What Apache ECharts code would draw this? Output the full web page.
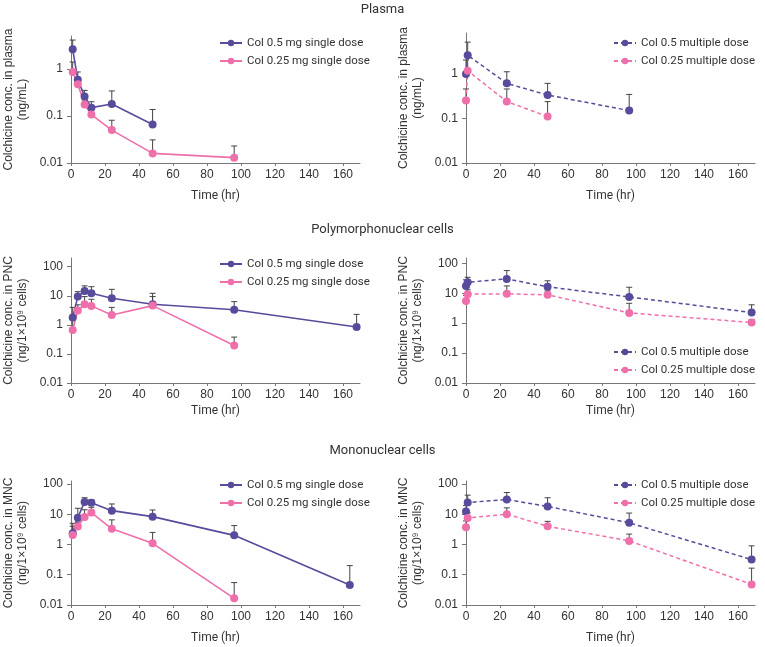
<!DOCTYPE html>
<html><head><meta charset="utf-8">
<script src="https://cdn.jsdelivr.net/npm/echarts@6/dist/echarts.min.js"></script>
<style>html,body{margin:0;padding:0;background:#fff}#c{width:765px;height:647px}</style>
</head><body><div id="c"></div>
<script>
// ---- data ----
const names = ["Col 0.5 mg single dose", "Col 0.25 mg single dose", "Col 0.5 multiple dose", "Col 0.25 multiple dose"];
const panelTitles = ["Plasma", "Polymorphonuclear cells", "Mononuclear cells"];
const yNames = ["Colchicine conc. in plasma\n(ng/mL)", "Colchicine conc. in PNC\n(ng/1×10⁹ cells)", "Colchicine conc. in MNC\n(ng/1×10⁹ cells)"];
const xTickStep = 20;

// Plasma single dose
const plasmaS05T = [1, 4, 8, 12, 24, 48];
const plasmaS05 = [2.6, 0.59, 0.26, 0.15, 0.18, 0.066];
const plasmaS05Up = [4.1, 0.86, 0.35, 0.2, 0.34, 0.137];
const plasmaS025T = [1, 4, 8, 12, 24, 48, 96];
const plasmaS025 = [0.86, 0.47, 0.175, 0.107, 0.05, 0.016, 0.013];
const plasmaS025Up = [1.4, 0.55, 0.22, 0.155, 0.081, 0.031, 0.023];
// Plasma multiple dose
const plasmaM05T = [0, 1, 24, 48, 96];
const plasmaM05 = [0.97, 2.55, 0.6, 0.33, 0.148];
const plasmaM05Up = [2.0, 5.0, 1.09, 0.6, 0.34];
const plasmaM025T = [0, 1, 24, 48];
const plasmaM025 = [0.25, 1.15, 0.235, 0.109];
const plasmaM025Up = [0.45, 2.5, 0.45, 0.235];
// PNC single dose
const pncS05T = [1, 4, 8, 12, 24, 48, 96, 168];
const pncS05 = [1.78, 9.4, 14.6, 12.2, 8.2, 5.1, 3.3, 0.85];
const pncS05Up = [4.0, 13.9, 22, 20.6, 16.7, 12.2, 6.3, 2.3];
const pncS025T = [1, 4, 8, 12, 24, 48, 96];
const pncS025 = [0.67, 3.1, 5.1, 4.5, 2.2, 4.6, 0.195];
const pncS025Up = [1.5, 4.9, 9.4, 7.6, 4.0, 9.4, 0.38];
// PNC multiple dose
const pncM05T = [0, 1, 24, 48, 96, 168];
const pncM05 = [17.5, 23.3, 30, 16.3, 7.5, 2.27];
const pncM05Up = [28, 34, 57, 26, 15.8, 4.1];
const pncM025T = [0, 1, 24, 48, 96, 168];
const pncM025 = [5.5, 9.3, 9.5, 8.8, 2.2, 1.05];
const pncM025Up = [8.5, 13, 17.5, 12, 4.6, 1.3];
// MNC single dose
const mncS05T = [1, 4, 8, 12, 24, 48, 96, 164];
const mncS05 = [2.34, 7.7, 25.4, 24, 13.1, 8.3, 2.0, 0.046];
const mncS05Up = [5.0, 15.7, 35, 30, 21.8, 13.8, 4.2, 0.2];
const mncS025T = [1, 4, 8, 12, 24, 48, 96];
const mncS025 = [2.06, 3.9, 8.1, 11.3, 3.3, 1.09, 0.0166];
const mncS025Up = [4, 5.5, 14, 16.9, 6.5, 2.5, 0.055];
// MNC multiple dose
const mncM05T = [0, 1, 24, 48, 96, 168];
const mncM05 = [12.3, 24.3, 30.5, 18, 5.2, 0.316];
const mncM05Up = [19.5, 42.6, 52, 35, 10.9, 0.9];
const mncM025T = [0, 1, 24, 48, 96, 168];
const mncM025 = [3.7, 7.5, 10, 4.0, 1.31, 0.048];
const mncM025Up = [6, 11, 16.2, 5.8, 2.2, 0.165];

// ---- layout / style ----
const PURPLE = '#574b9b', PINK = '#ef6fab', AX = '#777', TXT = '#333';
const labelFont = '"Liberation Sans", Arial, sans-serif';
const uiFont = 'Roboto, "Noto Sans", sans-serif';

const panels = [
  {grid:{left:71, top:36, width:289, height:127}, ymax:5, nameGap:27,
   series:[[plasmaS05T,plasmaS05,plasmaS05Up,0],[plasmaS025T,plasmaS025,plasmaS025Up,1]],
   legend:{left:219, top:36}, yName:0},
  {grid:{left:466, top:33, width:289, height:130}, ymax:8, nameGap:27,
   series:[[plasmaM05T,plasmaM05,plasmaM05Up,2],[plasmaM025T,plasmaM025,plasmaM025Up,3]],
   legend:{left:613, top:36}, yName:0},
  {grid:{left:71, top:258, width:289, height:125}, ymax:200, nameGap:22,
   series:[[pncS05T,pncS05,pncS05Up,0],[pncS025T,pncS025,pncS025Up,1]],
   legend:{left:219, top:257}, yName:1},
  {grid:{left:466, top:258, width:289, height:125}, ymax:150, nameGap:22,
   series:[[pncM05T,pncM05,pncM05Up,2],[pncM025T,pncM025,pncM025Up,3]],
   legend:{left:613, top:345}, yName:1},
  {grid:{left:71, top:481, width:289, height:124}, ymax:125, nameGap:27,
   series:[[mncS05T,mncS05,mncS05Up,0],[mncS025T,mncS025,mncS025Up,1]],
   legend:{left:219, top:478}, yName:2},
  {grid:{left:466, top:481, width:289, height:124}, ymax:125, nameGap:27,
   series:[[mncM05T,mncM05,mncM05Up,2],[mncM025T,mncM025,mncM025Up,3]],
   legend:{left:613, top:478}, yName:2}
];

const option = {
  animation:false,
  backgroundColor:'#fff',
  title: panelTitles.map((t,i)=>({text:t, left:'center', top:[-2,218,439][i],
    textStyle:{fontFamily:uiFont, fontSize:13, fontWeight:'normal', color:TXT}})),
  grid:[], xAxis:[], yAxis:[], legend:[], series:[]
};

panels.forEach((p,pi)=>{
  option.grid.push(p.grid);
  option.xAxis.push({type:'value', gridIndex:pi, min:0, max:170, interval:xTickStep,
    name:'Time (hr)', nameLocation:'middle', nameGap:p.nameGap,
    nameTextStyle:{fontFamily:uiFont, fontSize:12, color:TXT},
    axisLine:{lineStyle:{color:AX}}, axisTick:{length:3, lineStyle:{color:AX}},
    axisLabel:{fontFamily:labelFont, fontSize:12, color:TXT, showMaxLabel:false, margin:6},
    splitLine:{show:false}});
  option.yAxis.push({type:'log', gridIndex:pi, min:0.01, max:p.ymax, logBase:10,
    name:yNames[p.yName], nameLocation:'middle', nameGap:41, nameRotate:90,
    nameTextStyle:{fontFamily:labelFont, fontSize:12, color:TXT, lineHeight:14},
    axisLine:{show:true, lineStyle:{color:AX}}, axisTick:{length:4, lineStyle:{color:AX}},
    axisLabel:{fontFamily:labelFont, fontSize:12, color:TXT, showMaxLabel:false, margin:8,
      formatter:v=>String(+v.toPrecision(6))},
    splitLine:{show:false}, minorTick:{show:false}});
  const legendNames = [];
  p.series.forEach(([T,V,U,ni])=>{
    const color = (ni%2===0)?PURPLE:PINK;
    const dashed = ni>=2;
    legendNames.push(names[ni]);
    option.series.push({type:'custom', xAxisIndex:pi, yAxisIndex:pi, z:1, silent:true,
      data:T.map((t,i)=>[t,V[i],U[i]]),
      renderItem:(params, api)=>{
        const base = api.coord([api.value(0), api.value(1)]);
        const top = api.coord([api.value(0), api.value(2)]);
        return {type:'group', children:[
          {type:'line', shape:{x1:base[0], y1:base[1], x2:top[0], y2:top[1]}, style:{stroke:'#444', lineWidth:1}},
          {type:'line', shape:{x1:top[0]-3, y1:top[1], x2:top[0]+3, y2:top[1]}, style:{stroke:'#444', lineWidth:1}}
        ]};
      }});
    option.series.push({type:'line', name:names[ni], xAxisIndex:pi, yAxisIndex:pi, z:3,
      data:T.map((t,i)=>[t,V[i]]), symbol:'circle', symbolSize:8, showSymbol:true,
      itemStyle:{color:color}, lineStyle:{color:color, width:dashed?1.5:1.6, type:dashed?[4,3]:'solid'}});
  });
  option.legend.push({orient:'vertical', left:p.legend.left, top:p.legend.top+1, data:legendNames,
    padding:0, itemWidth:22, itemHeight:8, itemGap:6, selectedMode:false,
    textStyle:{fontFamily:uiFont, fontSize:11.5, color:TXT, padding:[0,0,0,0]}});
});

const chart = echarts.init(document.getElementById('c'), null, {renderer:'canvas'});
chart.setOption(option);
</script></body></html>
